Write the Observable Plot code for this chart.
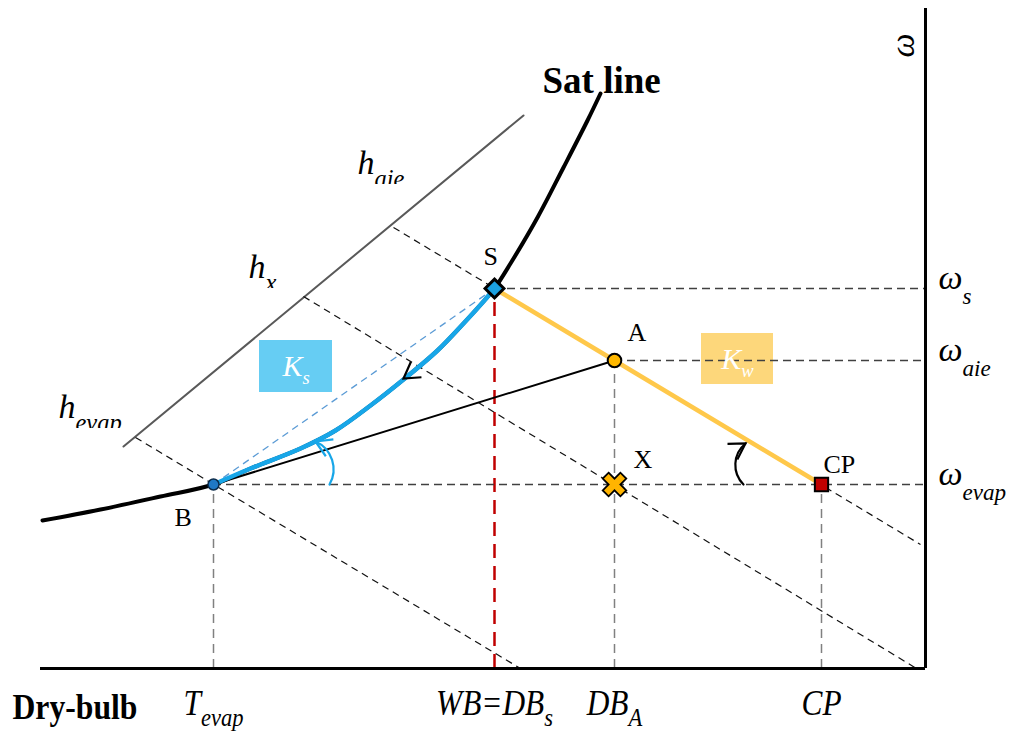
<!DOCTYPE html>
<html>
<head>
<meta charset="utf-8">
<script src="https://cdn.jsdelivr.net/npm/d3@7"></script>
<script src="https://cdn.jsdelivr.net/npm/@observablehq/plot@0.6"></script>
<style>
  html, body { margin: 0; padding: 0; background: #fff; }
  #chart svg { display: block; }
</style>
</head>
<body>
<div id="chart"></div>
<script>
// ---- Schematic psychrometric chart: dry-bulb (x) vs humidity ratio ω (y), arbitrary units ----

// State points
const stateNames = ["B", "S", "A", "X", "CP"];
const dryBulb    = [17.3, 45.4, 57.4, 57.4, 78.1];
const humidity   = [18.4, 38.0, 30.8, 18.4, 18.4];

// Saturation curve
const satT = [0.2, 6.0, 12.0, 17.3, 21.0, 26.0, 29.5, 33.0, 36.3, 39.7, 42.3, 44.3, 45.4, 47.0, 49.7, 52.3, 54.7, 56.0];
const satW = [14.8, 15.9, 17.2, 18.4, 20.0, 22.0, 23.8, 26.3, 28.9, 31.8, 34.5, 36.7, 38.0, 40.5, 45.1, 50.1, 54.8, 57.5];

// Enthalpy scale line and constant-enthalpy lines
const scaleT = [8.3, 48.3];
const scaleW = [22.2, 55.3];
const enthalpyNames = ["h_evap", "h_x", "h_aie"];
const hStartT = [9.5, 26.3, 35.3];
const hStartW = [23.1, 37.2, 44.1];
const hEndT   = [48.0, 87.6, 88.0];
const hEndW   = [0, 0, 12.4];

// Process-angle markers: arc tail → arrow tip, and the heading at the tip (degrees, clockwise from east)
const turnNames   = ["Ks angle", "Ks tip", "Kw angle"];
const turnT1      = [28.9, 36.8, 70.3];
const turnW1      = [18.4, 29.3, 18.4];
const turnT2      = [27.5, 36.3, 70.5];
const turnW2      = [22.7, 29.0, 22.5];
const turnHeading = [204, 145, 328];

// Slope boxes
const kNames = ["K_s", "K_w"];
const kT1 = [21.9, 66.1];
const kT2 = [29.2, 73.3];
const kW1 = [27.6, 28.4];
const kW2 = [32.8, 33.5];

// Text labels
const pointLabelText = ["S", "A", "X", "CP", "B"];
const pointLabelT = [44.3, 58.7, 59.3, 78.3, 13.4];
const pointLabelW = [40.4, 32.8, 20.1, 19.6, 14.3];

const hLabelText = ["h_aie", "h_x", "h_evap"];
const hLabelT = [31.7, 20.8, 1.8];
const hLabelW = [49.5, 39.1, 25.1];

const omegaLabelText = ["ω_s", "ω_aie", "ω_evap"];
const omegaLabelOf   = ["S", "A", "B"];

const tickLabelText = ["T_evap", "WB=DB_s", "DB_A", "CP"];
const tickLabelOf   = ["B", "S", "A", "CP"];

const satLabel = {text: "Sat line", t: 50.2, w: 57.6};
const xTitle = "Dry-bulb";
const yTitle = "ω";

// ---- derived tables ----
const tMax = 88.5, wMax = 66;
const states = stateNames.map((name, i) => ({name, t: dryBulb[i], w: humidity[i]}));
const st = Object.fromEntries(states.map(d => [d.name, d]));
const sat = satT.map((t, i) => ({t, w: satW[i]}));
const satBS = sat.filter(d => d.t >= st.B.t && d.t <= st.S.t);
const enthalpy = enthalpyNames.map((name, i) => ({name, t1: hStartT[i], w1: hStartW[i], t2: hEndT[i], w2: hEndW[i]}));
const scaleLine = scaleT.map((t, i) => ({t, w: scaleW[i]}));
const turns = turnNames.map((name, i) => ({name, t1: turnT1[i], w1: turnW1[i], t2: turnT2[i], w2: turnW2[i], heading: turnHeading[i]}));
const kBoxes = kNames.map((name, i) => ({name, t1: kT1[i], t2: kT2[i], w1: kW1[i], w2: kW2[i], tc: (kT1[i] + kT2[i]) / 2, wc: (kW1[i] + kW2[i]) / 2}));
const kFill = {K_s: "#66cdf3", K_w: "#fdd77b"};
const pointLabels = pointLabelText.map((text, i) => ({text, t: pointLabelT[i], w: pointLabelW[i]}));
const hLabels = hLabelText.map((text, i) => ({text, t: hLabelT[i], w: hLabelW[i]}));
const omegaLabels = omegaLabelText.map((text, i) => ({text, w: st[omegaLabelOf[i]].w}));
const tickLabels = tickLabelText.map((text, i) => ({text, t: st[tickLabelOf[i]].t}));

const SERIF = "'Liberation Serif', 'Times New Roman', serif";
const turn = name => turns.filter(d => d.name === name);

// Open arrowhead (two wings meeting at the tip), pointing east before rotation
const chevron = {
  draw(context, size) {
    const len = Math.sqrt(size / Math.PI) * 2;
    const a = 31 * Math.PI / 180;
    context.moveTo(-len * Math.cos(a), -len * Math.sin(a));
    context.lineTo(0, 0);
    context.lineTo(-len * Math.cos(a), len * Math.sin(a));
  }
};

const chart = Plot.plot({
  width: 1013,
  height: 732,
  marginLeft: 40, marginRight: 88, marginTop: 8, marginBottom: 64,
  x: {domain: [0, tMax], axis: null},
  y: {domain: [0, wMax], axis: null},
  style: {fontFamily: SERIF, background: "#fff", overflow: "visible"},
  marks: [
    // slope boxes
    Plot.rect(kBoxes, {x1: "t1", x2: "t2", y1: "w1", y2: "w2", fill: d => kFill[d.name]}),
    // enthalpy scale line
    Plot.line(scaleLine, {x: "t", y: "w", stroke: "#595959", strokeWidth: 2}),
    // constant-enthalpy lines
    Plot.link(enthalpy, {x1: "t1", y1: "w1", x2: "t2", y2: "w2", stroke: "#111", strokeWidth: 1.2, strokeDasharray: "7,5"}),
    // drops to the dry-bulb axis
    Plot.ruleX([st.B, st.A, st.CP], {x: "t", y1: 0, y2: "w", stroke: "#808080", strokeWidth: 1.5, strokeDasharray: "9,6"}),
    Plot.ruleX([st.S], {x: "t", y1: 0, y2: "w", stroke: "#c00000", strokeWidth: 2.5, strokeDasharray: "14,8"}),
    // humidity-ratio levels to the ω axis
    Plot.ruleY([st.S, st.A, st.B], {y: "w", x1: "t", x2: tMax, stroke: "#404040", strokeWidth: 1.4, strokeDasharray: "8,5"}),
    // straight chord B → S
    Plot.link([[st.B, st.S]], {x1: d => d[0].t, y1: d => d[0].w, x2: d => d[1].t, y2: d => d[1].w, stroke: "#5b9bd5", strokeWidth: 1.3, strokeDasharray: "7,5"}),
    // saturation curve
    Plot.line(sat, {x: "t", y: "w", curve: "catmull-rom", stroke: "#000", strokeWidth: 4}),
    // mixing line B → A
    Plot.line([st.B, st.A], {x: "t", y: "w", stroke: "#000", strokeWidth: 2}),
    // cooling path along saturation (K_s)
    Plot.line(satBS, {x: "t", y: "w", curve: "catmull-rom", stroke: "#17a6e8", strokeWidth: 4.5}),
    // wet-bulb line S → A → CP (K_w)
    Plot.line([st.S, st.A, st.CP], {x: "t", y: "w", stroke: "#ffc84a", strokeWidth: 4.5}),
    // angle markers: arcs, then their arrowheads
    Plot.arrow(turn("Ks angle"), {x1: "t1", y1: "w1", x2: "t2", y2: "w2", bend: -48, stroke: "#17a6e8", strokeWidth: 2.2, headLength: 0, insetStart: 0, insetEnd: 0}),
    Plot.arrow(turn("Kw angle"), {x1: "t1", y1: "w1", x2: "t2", y2: "w2", bend: 48, stroke: "#000", strokeWidth: 2.2, headLength: 0, insetStart: 0, insetEnd: 0}),
    Plot.dot(turn("Ks angle"), {x: "t2", y: "w2", symbol: chevron, rotate: "heading", r: 9, fill: "none", stroke: "#17a6e8", strokeWidth: 2.2, strokeLinejoin: "miter"}),
    Plot.dot(turn("Ks tip"), {x: "t2", y: "w2", symbol: chevron, rotate: "heading", r: 9, fill: "none", stroke: "#000", strokeWidth: 2.2, strokeLinejoin: "miter"}),
    Plot.dot(turn("Kw angle"), {x: "t2", y: "w2", symbol: chevron, rotate: "heading", r: 9, fill: "none", stroke: "#000", strokeWidth: 2.2, strokeLinejoin: "miter"}),
    // state markers
    Plot.dot([st.B], {x: "t", y: "w", r: 5.5, fill: "#1f78c4", stroke: "#0b2b4a", strokeWidth: 1.5}),
    Plot.dot([st.A], {x: "t", y: "w", r: 6.8, fill: "#ffb800", stroke: "#000", strokeWidth: 2}),
    Plot.dot([st.X], {x: "t", y: "w", symbol: "cross", rotate: 45, r: 10.5, fill: "#ffb400", stroke: "#000", strokeWidth: 1.8}),
    Plot.dot([st.CP], {x: "t", y: "w", symbol: "square", r: 7.5, fill: "#c00000", stroke: "#000", strokeWidth: 2}),
    Plot.dot([st.S], {x: "t", y: "w", symbol: "diamond2", r: 8.5, fill: "#1ba1e2", stroke: "#000", strokeWidth: 3}),
    // axes
    Plot.ruleY([0], {x1: 0, x2: tMax, stroke: "#000", strokeWidth: 3}),
    Plot.ruleX([tMax], {y1: 0, y2: wMax, stroke: "#000", strokeWidth: 3}),
    // labels
    Plot.text([satLabel], {x: "t", y: "w", text: "text", textAnchor: "start", lineAnchor: "bottom", fontSize: 37, fontWeight: "bold", fill: "#000"}),
    Plot.text(pointLabels, {x: "t", y: "w", text: "text", textAnchor: "start", lineAnchor: "bottom", fontSize: 26, fill: "#000"}),
    Plot.text(hLabels, {x: "t", y: "w", text: "text", textAnchor: "start", lineAnchor: "bottom", fontSize: 34, fontStyle: "italic", fill: "#000", className: "sub-h"}),
    Plot.text(omegaLabels, {y: "w", frameAnchor: "right", dx: 13, text: "text", textAnchor: "start", lineAnchor: "bottom", fontSize: 34, fontStyle: "italic", fill: "#000", className: "sub-w"}),
    Plot.text(tickLabels, {x: "t", frameAnchor: "bottom", dy: 46, text: "text", textAnchor: "middle", lineAnchor: "bottom", fontSize: 36, fontStyle: "italic", fill: "#000", className: "sub-t"}),
    Plot.text(kBoxes, {x: "tc", y: "wc", text: "name", textAnchor: "middle", lineAnchor: "middle", fontSize: 30, fontStyle: "italic", fill: "#fff", className: "sub-k"}),
    Plot.text([xTitle], {frameAnchor: "bottom-left", dx: -28, dy: 50, text: d => d, textAnchor: "start", lineAnchor: "bottom", fontSize: 36, fontWeight: "bold", fill: "#000", className: "narrow"}),
    Plot.text([yTitle], {frameAnchor: "top-right", dx: -22, dy: 37, text: d => d, rotate: -90, textAnchor: "middle", lineAnchor: "middle", fontSize: 34, fontStyle: "italic", fill: "#000"})
  ]
});

// Turn "main_sub" strings into a main run plus a lowered, smaller subscript run
const SVGNS = "http://www.w3.org/2000/svg";
function subscripts(root, cls, size, shift, squeeze) {
  root.querySelectorAll(`.${cls} text`).forEach(el => {
    const s = el.textContent;
    const i = s.indexOf("_");
    if (i >= 0) {
      el.textContent = "";
      const main = document.createElementNS(SVGNS, "tspan");
      main.textContent = s.slice(0, i);
      const sub = document.createElementNS(SVGNS, "tspan");
      sub.textContent = s.slice(i + 1);
      sub.setAttribute("font-size", size);
      sub.setAttribute("dy", shift);
      el.append(main, sub);
    }
    if (squeeze) el.setAttribute("transform", (el.getAttribute("transform") || "") + ` scale(${squeeze},1)`);
  });
}
subscripts(chart, "sub-h", "0.72em", "0.57em");
subscripts(chart, "sub-w", "0.68em", "0.65em");
subscripts(chart, "sub-t", "0.72em", "0.46em", 0.87);
subscripts(chart, "sub-k", "0.62em", "0.45em");
chart.querySelectorAll(".narrow text").forEach(el =>
  el.setAttribute("transform", (el.getAttribute("transform") || "") + " scale(0.88,1)"));

// The enthalpy labels sit in boxes that trim the lower part of their subscripts
const defs = document.createElementNS(SVGNS, "defs");
const clip = document.createElementNS(SVGNS, "clipPath");
clip.setAttribute("id", "h-label-box");
clip.setAttribute("clipPathUnits", "userSpaceOnUse");
const box = document.createElementNS(SVGNS, "rect");
box.setAttribute("x", -20); box.setAttribute("y", -60);
box.setAttribute("width", 120); box.setAttribute("height", 70.5);
clip.append(box); defs.append(clip); chart.prepend(defs);
chart.querySelectorAll(".sub-h text").forEach(el => el.setAttribute("clip-path", "url(#h-label-box)"));

document.getElementById("chart").append(chart);
</script>
</body>
</html>
